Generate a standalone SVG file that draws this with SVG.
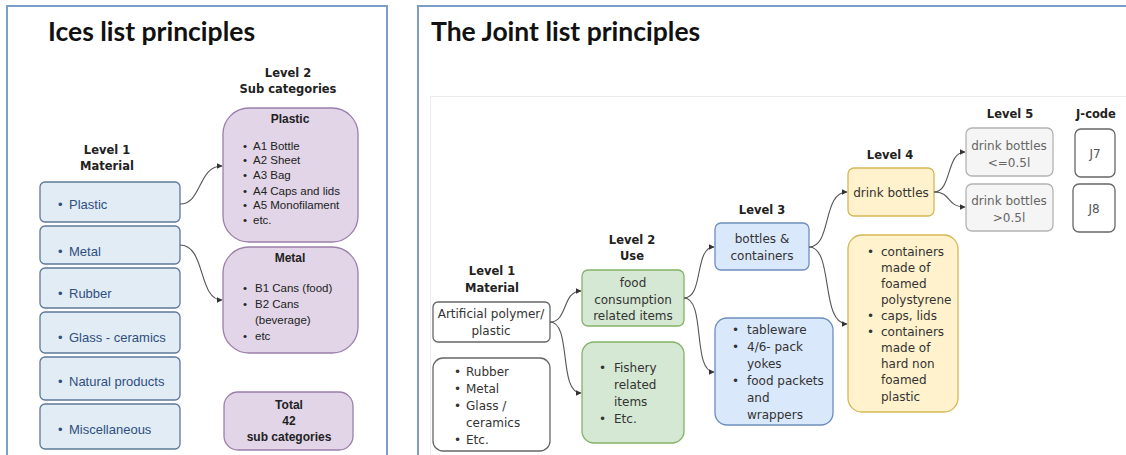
<svg xmlns="http://www.w3.org/2000/svg" width="1126" height="455" viewBox="0 0 1126 455">
<style>
.panel{fill:#fff;stroke:#7d9dcb;stroke-width:2}
.title{font-family:Lato,"Liberation Sans",sans-serif;font-weight:bold;font-size:26.5px;fill:#111}
.hdr{font-family:"DejaVu Sans",sans-serif;font-weight:bold;font-size:11.5px;fill:#222;text-anchor:middle}
.l1{fill:#e1ecf5;stroke:#5d7898;stroke-width:1.3}
.l1t{font-family:"Liberation Sans",Arial,sans-serif;font-size:13px;fill:#2f4f7f}
.pur{fill:#e1d5e7;stroke:#9b7fab;stroke-width:1.3}
.purt{font-family:"Liberation Sans",Arial,sans-serif;font-size:11.5px;fill:#222}
.purh{font-family:"Liberation Sans",Arial,sans-serif;font-size:12px;font-weight:bold;fill:#222;text-anchor:middle}
.wb{fill:#fff;stroke:#666;stroke-width:1.3}
.gb{fill:#d5e8d4;stroke:#82b366;stroke-width:1.3}
.bb{fill:#dae8fc;stroke:#6c8ebf;stroke-width:1.3}
.yb{fill:#fff2cc;stroke:#d6b656;stroke-width:1.3}
.grb{fill:#f5f5f5;stroke:#b3b3b3;stroke-width:1.3}
.rt{font-family:"DejaVu Sans",sans-serif;font-size:12px;fill:#333}
.c{text-anchor:middle}
.gt{fill:#666}
.jt{fill:#555}
.conn{fill:none;stroke:#555;stroke-width:1.1;marker-end:url(#ah)}
</style>
<defs>
<marker id="ah" markerWidth="6" markerHeight="6" refX="5.5" refY="3" orient="auto" markerUnits="userSpaceOnUse">
<path d="M0,0 L6,3 L0,6 Z" fill="#333"/>
</marker>
</defs>
<rect width="1126" height="455" fill="#fff"/>
<rect class="panel" x="7" y="6" width="380" height="460"/>
<rect class="panel" x="418" y="6" width="720" height="460"/>
<rect x="430.5" y="96.5" width="710" height="370" fill="#fff" stroke="#ececec" stroke-width="1"/>

<text class="title" x="48" y="41">Ices list principles</text>
<text class="title" x="431" y="41">The Joint list principles</text>

<g id="left-headers">
<text class="hdr" x="107" y="154">Level 1</text>
<text class="hdr" x="107" y="170">Material</text>
<text class="hdr" x="288" y="77">Level 2</text>
<text class="hdr" x="288" y="93">Sub categories</text>
</g>

<g id="l1-plastic"><rect class="l1" x="40" y="182" width="140" height="40" rx="5"/><text class="l1t" y="209"><tspan x="58">•</tspan><tspan x="69">Plastic</tspan></text></g>
<g id="l1-metal"><rect class="l1" x="40" y="226" width="140" height="38" rx="5"/><text class="l1t" y="256"><tspan x="58">•</tspan><tspan x="69">Metal</tspan></text></g>
<g id="l1-rubber"><rect class="l1" x="40" y="268" width="140" height="40" rx="5"/><text class="l1t" y="298"><tspan x="58">•</tspan><tspan x="69">Rubber</tspan></text></g>
<g id="l1-glass"><rect class="l1" x="40" y="312" width="140" height="41" rx="5"/><text class="l1t" y="342"><tspan x="58">•</tspan><tspan x="69">Glass - ceramics</tspan></text></g>
<g id="l1-natural"><rect class="l1" x="40" y="357" width="140" height="43" rx="5"/><text class="l1t" y="386"><tspan x="58">•</tspan><tspan x="69">Natural products</tspan></text></g>
<g id="l1-misc"><rect class="l1" x="40" y="404" width="140" height="45" rx="5"/><text class="l1t" y="434"><tspan x="58">•</tspan><tspan x="69">Miscellaneous</tspan></text></g>

<g id="l2-plastic">
<rect class="pur" x="223" y="108" width="135" height="134" rx="26"/>
<text class="purh" x="290" y="123">Plastic</text>
<text class="purt" y="150"><tspan x="243">•</tspan><tspan x="253">A1 Bottle</tspan></text>
<text class="purt" y="164"><tspan x="243">•</tspan><tspan x="253">A2 Sheet</tspan></text>
<text class="purt" y="179"><tspan x="243">•</tspan><tspan x="253">A3 Bag</tspan></text>
<text class="purt" y="195"><tspan x="243">•</tspan><tspan x="253">A4 Caps and lids</tspan></text>
<text class="purt" y="209"><tspan x="243">•</tspan><tspan x="253">A5 Monofilament</tspan></text>
<text class="purt" y="224"><tspan x="243">•</tspan><tspan x="253">etc.</tspan></text>
</g>
<g id="l2-metal">
<rect class="pur" x="223" y="247" width="135" height="106" rx="26"/>
<text class="purh" x="290" y="262">Metal</text>
<text class="purt" y="292"><tspan x="243">•</tspan><tspan x="255">B1 Cans (food)</tspan></text>
<text class="purt" y="308"><tspan x="243">•</tspan><tspan x="255">B2 Cans</tspan></text>
<text class="purt" x="255" y="324">(beverage)</text>
<text class="purt" y="340"><tspan x="243">•</tspan><tspan x="255">etc</tspan></text>
</g>
<g id="l2-total">
<rect class="pur" x="224" y="392" width="129" height="58" rx="14"/>
<text class="purh" x="289" y="409">Total</text>
<text class="purh" x="289" y="425">42</text>
<text class="purh" x="289" y="441">sub categories</text>
</g>

<g id="right-headers">
<text class="hdr" x="492" y="275">Level 1</text>
<text class="hdr" x="492" y="292">Material</text>
<text class="hdr" x="632" y="244">Level 2</text>
<text class="hdr" x="632" y="260">Use</text>
<text class="hdr" x="762" y="214">Level 3</text>
<text class="hdr" x="890" y="159">Level 4</text>
<text class="hdr" x="1010" y="118">Level 5</text>
<text class="hdr" x="1096" y="118">J-code</text>
</g>

<g id="r-artificial"><rect class="wb" x="433" y="302" width="117" height="40" rx="5"/><text class="rt c" x="491" y="318">Artificial polymer/</text><text class="rt c" x="491" y="335">plastic</text></g>
<g id="r-other">
<rect class="wb" x="433" y="358" width="117" height="93" rx="10"/>
<text class="rt" y="376"><tspan x="454">•</tspan><tspan x="466">Rubber</tspan></text>
<text class="rt" y="393"><tspan x="454">•</tspan><tspan x="466">Metal</tspan></text>
<text class="rt" y="410"><tspan x="454">•</tspan><tspan x="466">Glass /</tspan></text>
<text class="rt" x="466" y="427">ceramics</text>
<text class="rt" y="444"><tspan x="454">•</tspan><tspan x="466">Etc.</tspan></text>
</g>

<g id="r-food"><rect class="gb" x="582" y="270" width="102" height="56" rx="6"/>
<text class="rt c" x="633" y="287">food</text><text class="rt c" x="633" y="304">consumption</text><text class="rt c" x="633" y="320">related items</text></g>
<g id="r-fishery"><rect class="gb" x="582" y="342" width="102" height="101" rx="12"/>
<text class="rt" y="372"><tspan x="599">•</tspan><tspan x="614">Fishery</tspan></text><text class="rt" x="614" y="389">related</text><text class="rt" x="614" y="406">items</text><text class="rt" y="423"><tspan x="599">•</tspan><tspan x="614">Etc.</tspan></text></g>

<g id="r-bottles"><rect class="bb" x="715" y="223" width="94" height="47" rx="6"/>
<text class="rt c" x="762" y="243">bottles &amp;</text><text class="rt c" x="762" y="260">containers</text></g>
<g id="r-tableware"><rect class="bb" x="715" y="318" width="118" height="107" rx="12"/>
<text class="rt" y="334"><tspan x="732">•</tspan><tspan x="747">tableware</tspan></text><text class="rt" y="351"><tspan x="732">•</tspan><tspan x="747">4/6- pack</tspan></text><text class="rt" x="747" y="368">yokes</text>
<text class="rt" y="385"><tspan x="732">•</tspan><tspan x="747">food packets</tspan></text><text class="rt" x="747" y="402">and</text><text class="rt" x="747" y="419">wrappers</text></g>

<g id="r-drink"><rect class="yb" x="848" y="168" width="86" height="48" rx="6"/><text class="rt c" x="891" y="197">drink bottles</text></g>
<g id="r-containers"><rect class="yb" x="848" y="235" width="110" height="177" rx="14"/>
<text class="rt" y="256"><tspan x="867">•</tspan><tspan x="881">containers</tspan></text><text class="rt" x="881" y="272">made of</text><text class="rt" x="881" y="288">foamed</text><text class="rt" x="881" y="304">polystyrene</text>
<text class="rt" y="320"><tspan x="867">•</tspan><tspan x="881">caps, lids</tspan></text><text class="rt" y="336"><tspan x="867">•</tspan><tspan x="881">containers</tspan></text><text class="rt" x="881" y="352">made of</text><text class="rt" x="881" y="368">hard non</text><text class="rt" x="881" y="384">foamed</text><text class="rt" x="881" y="401">plastic</text></g>

<g id="r-small"><rect class="grb" x="966" y="128" width="87" height="48" rx="6"/><text class="rt c gt" x="1009" y="150">drink bottles</text><text class="rt c gt" x="1009" y="167">&lt;=0.5l</text></g>
<g id="r-large"><rect class="grb" x="966" y="184" width="87" height="47" rx="6"/><text class="rt c gt" x="1009" y="205">drink bottles</text><text class="rt c gt" x="1009" y="222">&gt;0.5l</text></g>
<g id="j7"><rect class="wb" x="1075" y="129" width="40" height="48" rx="6"/><text class="rt c jt" x="1095" y="158">J7</text></g>
<g id="j8"><rect class="wb" x="1073" y="184" width="42" height="48" rx="6"/><text class="rt c jt" x="1094" y="213">J8</text></g>

<g id="connectors">
<path class="conn" d="M180,204 C202,204 198,166 222,166"/>
<path class="conn" d="M180,245 C206,245 198,300 222,300"/>
<path class="conn" d="M550,322 C568,322 562,291 581,291"/>
<path class="conn" d="M550,322 C572,322 558,393 581,393"/>
<path class="conn" d="M684,298 C704,298 694,247 714,247"/>
<path class="conn" d="M684,298 C706,298 692,372 714,372"/>
<path class="conn" d="M809,247 C832,247 822,192 847,192"/>
<path class="conn" d="M809,247 C834,247 820,324 847,324"/>
<path class="conn" d="M934,192 C952,192 946,152 965,152"/>
<path class="conn" d="M934,192 C952,192 946,207 965,207"/>
</g>
</svg>
